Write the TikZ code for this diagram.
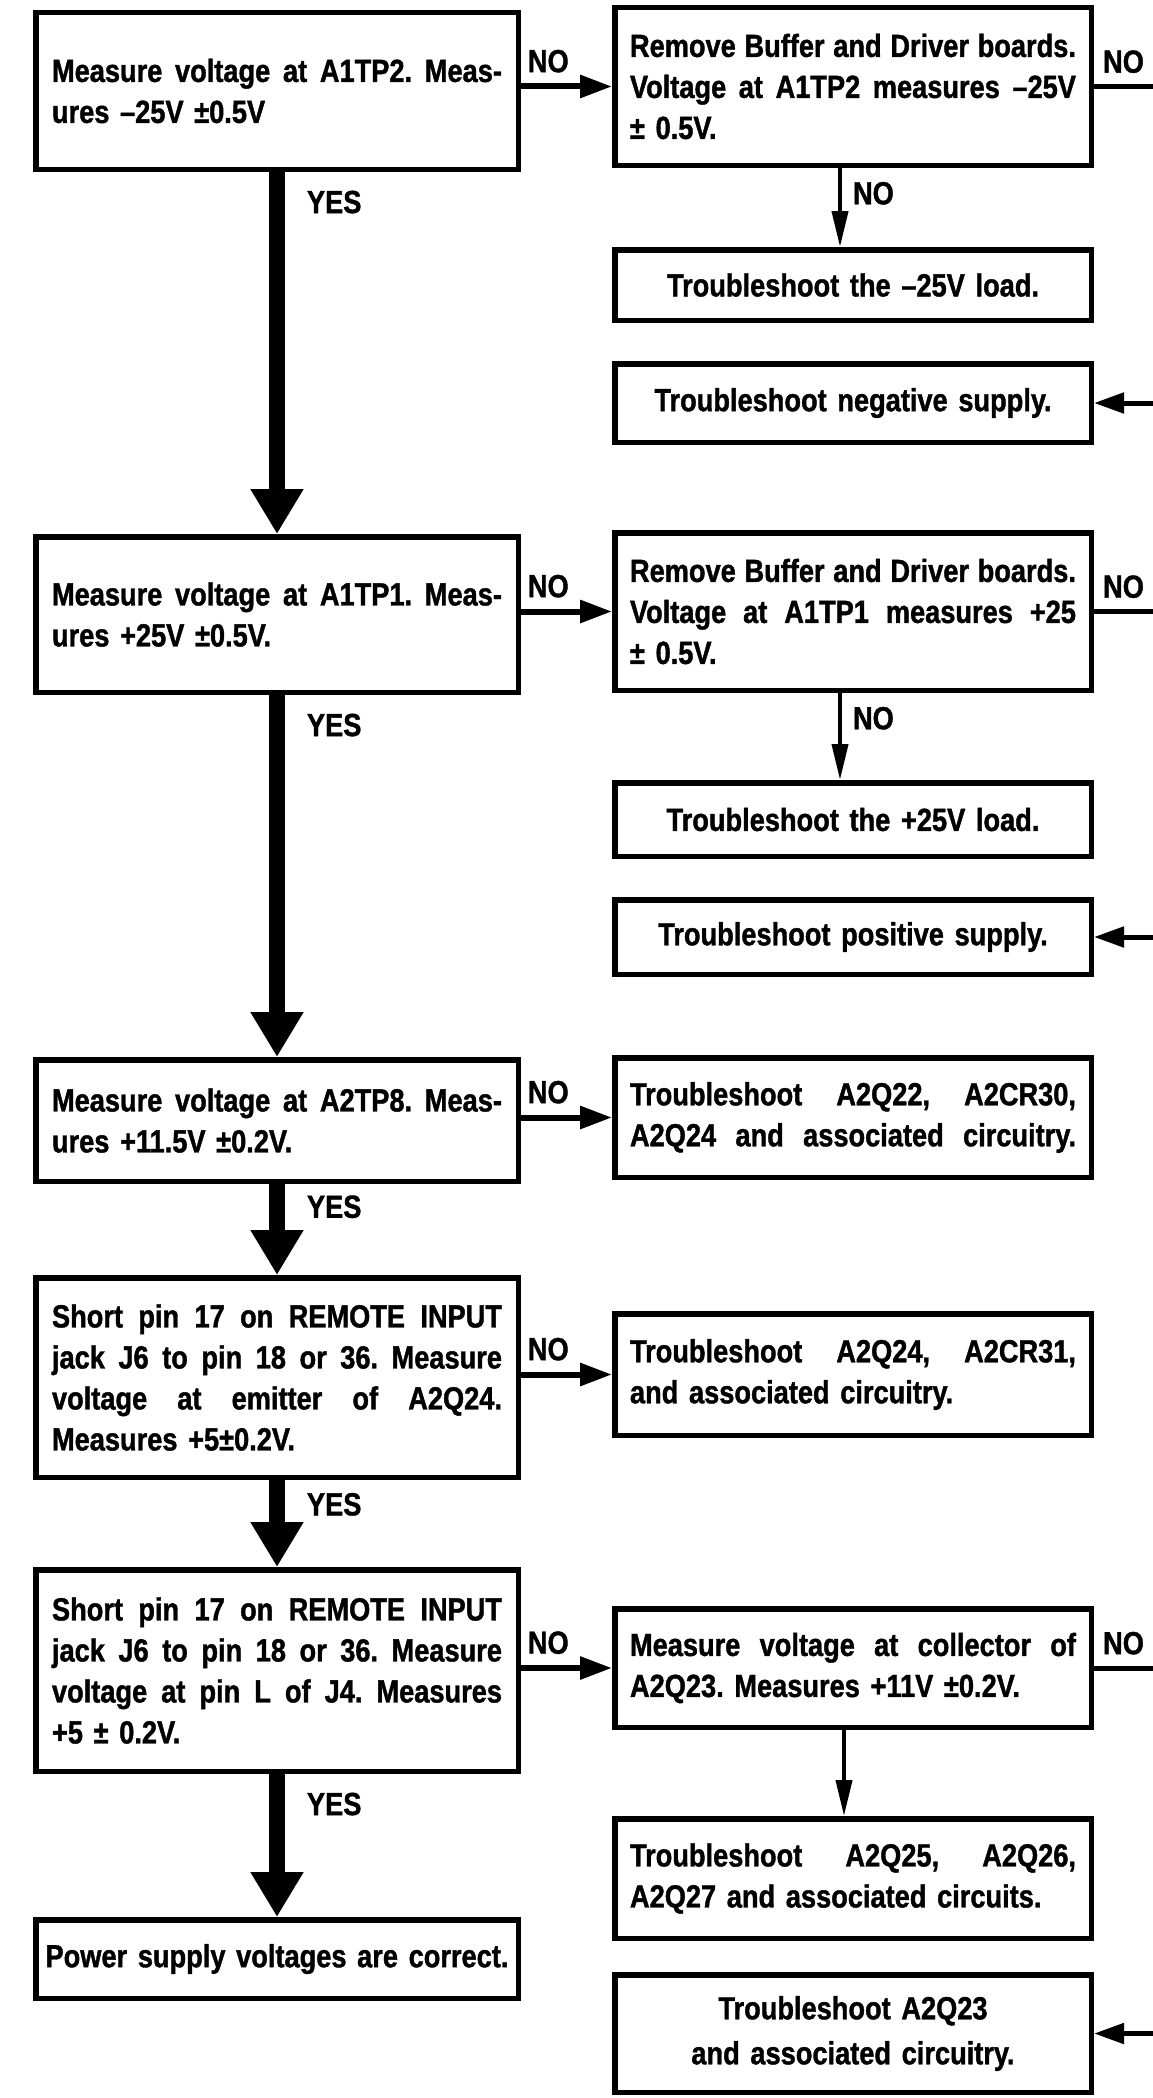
\documentclass[tikz,border=0pt]{standalone}
\usepackage{fontspec}
\setmainfont[FakeStretch=0.85,FakeBold=1.2]{Liberation Sans}
\usetikzlibrary{arrows.meta,calc}
\newcommand{\jl}[1]{\makebox[\hsize][s]{\spaceskip=0pt\xspaceskip=0pt\relax #1}}
\frenchspacing
\begin{document}
\begin{tikzpicture}[x=1pt,y=-1pt,
  box/.style={draw, line width=5.5pt, rectangle, inner sep=0pt,
    font=\bfseries\fontsize{32}{41}\selectfont\frenchspacing, align=left},
  lbox/.style={box, text width=450pt, minimum width=482.5pt},
  rbox/.style={box, text width=446pt, minimum width=476.5pt},
  cbox/.style={rbox, align=center},
  lab/.style={font=\bfseries\fontsize{32}{36}\selectfont, inner sep=0pt},
  yesarrow/.style={line width=16pt, -{Triangle[width=50pt,length=45pt]}},
  noarrow/.style={line width=6pt, -{Triangle[width=22pt,length=32pt]}},
  thinarrow/.style={line width=4pt, -{Triangle[width=16pt,length=36pt]}},
  inarrow/.style={line width=5pt, -{Triangle[width=20pt,length=30pt]}},
  edgeline/.style={line width=5pt}
]
\fill[white] (0,0) rectangle (1153,2098);
\useasboundingbox (0,0) rectangle (1153,2098);
\coordinate (E) at (1153,0);

% left column
\node[lbox, minimum height=156.5pt] (L1) at (277,91)
  {\jl{Measure voltage at A1TP2. Meas-}\\ures –25V ±0.5V};
\node[lbox, minimum height=155.5pt] (L2) at (277,614.5)
  {\jl{Measure voltage at A1TP1. Meas-}\\ures +25V ±0.5V.};
\node[lbox, minimum height=121.5pt] (L3) at (277,1120.5)
  {\jl{Measure voltage at A2TP8. Meas-}\\ures +11.5V ±0.2V.};
\node[lbox, minimum height=199.5pt] (L4) at (277,1377.5)
  {\jl{Short pin 17 on REMOTE INPUT}\\\jl{jack J6 to pin 18 or 36. Measure}\\\jl{voltage at emitter of A2Q24.}\\Measures +5±0.2V.};
\node[lbox, minimum height=201.5pt] (L5) at (277,1670.5)
  {\jl{Short pin 17 on REMOTE INPUT}\\\jl{jack J6 to pin 18 or 36. Measure}\\\jl{voltage at pin L of J4. Measures}\\+5 ± 0.2V.};
\node[lbox, text width=475pt, minimum height=78.5pt, align=center] (L6) at (277,1959)
  {Power supply voltages are correct.};

% right column
\node[rbox, minimum height=157.5pt] (R1) at (853,86.5)
  {\jl{Remove Buffer and Driver boards.}\\\jl{Voltage at A1TP2 measures –25V}\\± 0.5V.};
\node[cbox, minimum height=70.5pt] (R1b) at (853,285)
  {Troubleshoot the –25V load.};
\node[cbox, minimum height=78.5pt] (R1c) at (853,403)
  {Troubleshoot negative supply.};
\node[rbox, minimum height=157.5pt] (R2) at (853,611.5)
  {\jl{Remove Buffer and Driver boards.}\\\jl{Voltage at A1TP1 measures +25}\\± 0.5V.};
\node[cbox, minimum height=73.5pt] (R2b) at (853,819.5)
  {Troubleshoot the +25V load.};
\node[cbox, minimum height=74.5pt] (R2c) at (853,937)
  {Troubleshoot positive supply.};
\node[rbox, minimum height=119.5pt] (R3) at (853,1117.5)
  {\jl{Troubleshoot A2Q22, A2CR30,}\\\jl{A2Q24 and associated circuitry.}};
\node[rbox, minimum height=121.5pt] (R4) at (853,1374.5)
  {\jl{Troubleshoot A2Q24, A2CR31,}\\and associated circuitry.};
\node[rbox, minimum height=118.5pt] (R5) at (853,1668)
  {\jl{Measure voltage at collector of}\\A2Q23. Measures +11V ±0.2V.};
\node[rbox, minimum height=119.5pt] (R5b) at (853,1878.5)
  {\jl{Troubleshoot A2Q25, A2Q26,}\\A2Q27 and associated circuits.};
\node[cbox, minimum height=117.5pt] (R5c) at (853,2033.5)
  {Troubleshoot A2Q23\\[4pt]and associated circuitry.};

% YES arrows
\draw[yesarrow] (L1.south) -- node[lab, pos=0.083, right=22pt]{YES} (L2.north);
\draw[yesarrow] (L2.south) -- node[lab, pos=0.083, right=22pt]{YES} (L3.north);
\draw[yesarrow] (L3.south) -- node[lab, pos=0.25, right=22pt]{YES} (L4.north);
\draw[yesarrow] (L4.south) -- node[lab, pos=0.28, right=22pt]{YES} (L5.north);
\draw[yesarrow] (L5.south) -- node[lab, pos=0.21, right=22pt]{YES} (L6.north);

% NO arrows left to right
\draw[noarrow] (R1.west -| L1.east) -- node[lab, pos=0.3, above=11pt]{NO} (R1.west);
\draw[noarrow] (R2.west -| L2.east) -- node[lab, pos=0.3, above=11pt]{NO} (R2.west);
\draw[noarrow] (R3.west -| L3.east) -- node[lab, pos=0.3, above=11pt]{NO} (R3.west);
\draw[noarrow] (R4.west -| L4.east) -- node[lab, pos=0.3, above=11pt]{NO} (R4.west);
\draw[noarrow] (R5.west -| L5.east) -- node[lab, pos=0.3, above=11pt]{NO} (R5.west);

% NO lines leaving the page
\draw[edgeline] (R1.east) -- node[lab, above=11pt]{NO} (R1.east -| E);
\draw[edgeline] (R2.east) -- node[lab, above=11pt]{NO} (R2.east -| E);
\draw[edgeline] (R5.east) -- node[lab, above=11pt]{NO} (R5.east -| E);

% arrows entering from the page edge
\draw[inarrow] (R1c.east -| E) -- (R1c.east);
\draw[inarrow] (R2c.east -| E) -- (R2c.east);
\draw[inarrow] (R5c.east -| E) -- (R5c.east);

% vertical NO arrows
\draw[thinarrow] ([xshift=-13pt]R1.south) -- node[lab, pos=0.32, right=11pt]{NO} ([xshift=-13pt]R1b.north);
\draw[thinarrow] ([xshift=-13pt]R2.south) -- node[lab, pos=0.29, right=11pt]{NO} ([xshift=-13pt]R2b.north);
\draw[thinarrow] ([xshift=-9pt]R5.south) -- ([xshift=-9pt]R5b.north);
\end{tikzpicture}
\end{document}
